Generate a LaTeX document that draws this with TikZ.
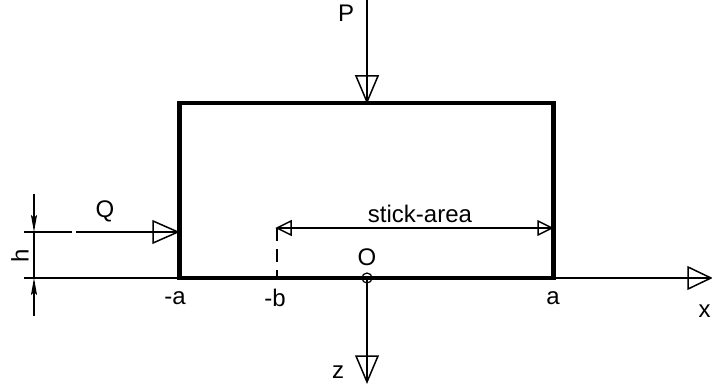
\documentclass[tikz,border=0pt]{standalone}
\usepackage{fontspec}
\setmainfont{Liberation Sans}
\usetikzlibrary{arrows.meta}
\tikzset{
  thin line/.style={line width=1.2pt,black},
  thick frame/.style={line width=4.4pt,black,line join=miter},
  head/.style={line width=1.5pt,black,line join=miter,fill=none},
  dim arrow/.style={thin line,-{Stealth[length=17pt,width=6pt,inset=3pt]}},
  lab/.style={inner sep=0pt,font=\fontsize{24}{24}\selectfont},
  dashline/.style={thin line,dash pattern=on 13pt off 8pt}
}
\begin{document}
\begin{tikzpicture}[x=1pt,y=-1pt]
\useasboundingbox (0,0) rectangle (712,387);
% frame corners
\coordinate (tl) at (179.5,103);
\coordinate (tr) at (553.5,103);
\coordinate (bl) at (179.5,278);
\coordinate (br) at (553.5,278);
\coordinate (Ptop) at (367,0);
\coordinate (Ptip) at (367,102);
\coordinate (O) at (367,278);
\coordinate (ztip) at (367,382);
\coordinate (xtip) at (711,278);
\coordinate (Qstart) at (24,232);
\coordinate (Qgap1) at (72,232);
\coordinate (Qgap2) at (76,232);
\coordinate (Qtip) at (178,232);
\coordinate (base) at (24,278);
\coordinate (htop) at (34,194);
\coordinate (hA) at (34,232);
\coordinate (hbot) at (34,316);
\coordinate (hB) at (34,278);
\coordinate (sL) at (277,228);
\coordinate (sR) at (552,228);
\coordinate (sD) at (277,278);
% thin lines
\draw[thin line] (Ptop) -- (Ptip);
\draw[thin line] (O) -- (ztip);
\draw[thin line] (br) -- (xtip);
\draw[thin line] (Qstart) -- (Qgap1);
\draw[thin line] (Qgap2) -- (Qtip);
\draw[thin line] (base) -- (bl);
\draw[thin line] (hA) -- (hB);
\draw[dim arrow] (htop) -- (hA);
\draw[dim arrow] (hbot) -- (hB);
\draw[thin line] (sL) -- (sR);
\draw[dashline] (sL) -- (sD);
% hollow heads
\draw[head] (Ptip) -- ++(-11,-26) -- ++(22,0) -- cycle;
\draw[head] (ztip) -- ++(-11,-26) -- ++(22,0) -- cycle;
\draw[head] (xtip) -- ++(-23,-11) -- ++(0,22) -- cycle;
\draw[head] (Qtip) -- ++(-25,-11) -- ++(0,22) -- cycle;
\draw[head] (sL) -- ++(14,-7) -- ++(0,14) -- cycle;
\draw[head] (sR) -- ++(-14,-7) -- ++(0,14) -- cycle;
% frame
\draw[thick frame] (tl) rectangle (br);
\node[draw,circle,thin line,minimum size=10pt,inner sep=0pt] (Ocirc) at (O) {};
% labels
\node[lab] (lP) at (346,13) {P};
\node[lab] (lQ) at (105,211) {Q};
\node[lab,rotate=90] (lh) at (20,256) {h};
\node[lab] (lma) at (175,298) {-a};
\node[lab] (lmb) at (275,298) {-b};
\node[lab] (lO) at (367,257) {O};
\node[lab] (la) at (553,298) {a};
\node[lab] (lx) at (704.5,311) {x};
\node[lab] (lz) at (338,372) {z};
\node[lab] (lst) at (420,214) {stick-area};
\end{tikzpicture}
\end{document}
